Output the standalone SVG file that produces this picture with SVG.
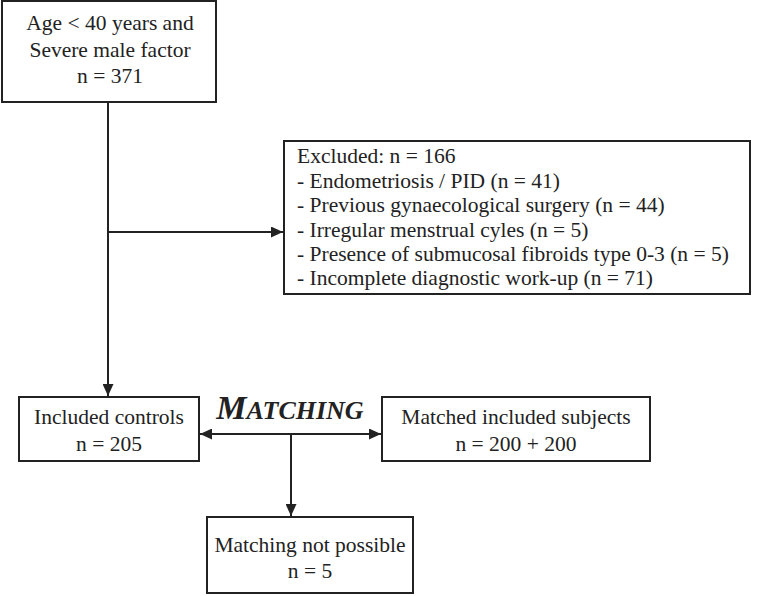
<svg xmlns="http://www.w3.org/2000/svg" width="760" height="596" viewBox="0 0 760 596">
<style>
.box{fill:#fff;stroke:#222;stroke-width:2}
.t{font-family:"Liberation Serif","Times New Roman",serif;font-size:21.5px;fill:#222}
.c{text-anchor:middle}
.ln{fill:none;stroke:#222;stroke-width:2}
.m{font-family:"Liberation Serif","Times New Roman",serif;font-weight:bold;font-style:italic;fill:#222}
</style>
<defs>
<marker id="ah" viewBox="0 0 10 10" refX="10" refY="5" markerWidth="6" markerHeight="5.5" orient="auto-start-reverse" markerUnits="strokeWidth" preserveAspectRatio="none">
<path d="M0,0 L10,5 L0,10 Z" fill="#222"/>
</marker>
</defs>
<g id="connectors">
<line class="ln" x1="108" y1="102" x2="108" y2="396" marker-end="url(#ah)"/>
<line class="ln" x1="108" y1="232" x2="283" y2="232" marker-end="url(#ah)"/>
<line class="ln" x1="200" y1="434" x2="381" y2="434" marker-start="url(#ah)" marker-end="url(#ah)"/>
<line class="ln" x1="291" y1="434" x2="291" y2="516" marker-end="url(#ah)"/>
</g>
<g id="start">
<rect class="box" x="2" y="1" width="214" height="101"/>
<text class="t c" x="110" y="30">Age &lt; 40 years and</text>
<text class="t c" x="110" y="57">Severe male factor</text>
<text class="t c" x="110" y="83">n = 371</text>
</g>
<g id="excluded">
<rect class="box" x="284" y="141" width="466" height="153"/>
<text class="t" x="297" y="163">Excluded: n = 166</text>
<text class="t" x="297" y="188">- Endometriosis / PID (n = 41)</text>
<text class="t" x="297" y="212">- Previous gynaecological surgery (n = 44)</text>
<text class="t" x="297" y="237">- Irregular menstrual cyles (n = 5)</text>
<text class="t" x="297" y="261">- Presence of submucosal fibroids type 0-3 (n = 5)</text>
<text class="t" x="297" y="285">- Incomplete diagnostic work-up (n = 71)</text>
</g>
<g id="controls">
<rect class="box" x="19" y="397" width="180" height="64"/>
<text class="t c" x="109" y="424">Included controls</text>
<text class="t c" x="109" y="451">n = 205</text>
</g>
<g id="matching-label">
<text class="m" x="290" y="419" text-anchor="middle"><tspan font-size="34">M</tspan><tspan font-size="26">ATCHING</tspan></text>
</g>
<g id="matched">
<rect class="box" x="382" y="397" width="268" height="64"/>
<text class="t c" x="516" y="424">Matched included subjects</text>
<text class="t c" x="516" y="451">n = 200 + 200</text>
</g>
<g id="notpossible">
<rect class="box" x="207" y="517" width="206" height="76"/>
<text class="t c" x="310" y="552">Matching not possible</text>
<text class="t c" x="310" y="578">n = 5</text>
</g>
</svg>
